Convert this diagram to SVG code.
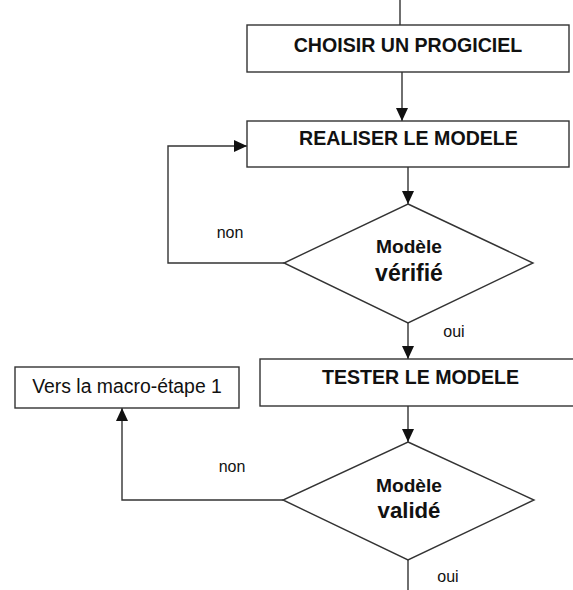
<svg xmlns="http://www.w3.org/2000/svg" width="573" height="590" viewBox="0 0 573 590">
<style>
.box{fill:#fff;stroke:#333;stroke-width:1.4}
.line{fill:none;stroke:#333;stroke-width:1.4}
.t{font-family:"Liberation Sans",Arial,sans-serif;fill:#111;text-anchor:middle}
.b{font-weight:bold}
</style>
<defs>
<marker id="arr" markerUnits="userSpaceOnUse" markerWidth="13" markerHeight="12" refX="13" refY="6" orient="auto">
<path d="M0,0 L13,6 L0,12 z" fill="#111"/>
</marker>
</defs>
<rect width="573" height="590" fill="#fff"/>
<g id="connectors">
<line class="line" x1="400" y1="0" x2="400" y2="25"/>
<line class="line" x1="402" y1="72" x2="402" y2="121" marker-end="url(#arr)"/>
<line class="line" x1="408" y1="167" x2="408" y2="204" marker-end="url(#arr)"/>
<polyline class="line" points="284,263 168,263 168,146 247,146" marker-end="url(#arr)"/>
<line class="line" x1="408" y1="323" x2="408" y2="359" marker-end="url(#arr)"/>
<line class="line" x1="408" y1="406" x2="408" y2="442" marker-end="url(#arr)"/>
<polyline class="line" points="283,500 122,500 122,408" marker-end="url(#arr)"/>
<line class="line" x1="408" y1="560" x2="408" y2="590"/>
<text class="t" x="230" y="238" font-size="16">non</text>
<text class="t" x="454" y="337" font-size="16">oui</text>
<text class="t" x="232" y="472" font-size="16">non</text>
<text class="t" x="448" y="582" font-size="16">oui</text>
</g>
<g id="choisir">
<rect class="box" x="247" y="25" width="322" height="47"/>
<text class="t b" x="408" y="52" font-size="19.6">CHOISIR UN PROGICIEL</text>
</g>
<g id="realiser">
<rect class="box" x="247" y="121" width="322" height="46"/>
<text class="t b" x="408.5" y="145" font-size="19.6">REALISER LE MODELE</text>
</g>
<g id="verifie">
<polygon class="box" points="408,204 533,263 408,323 284,263"/>
<text class="t b" x="409" y="253" font-size="19.2">Modèle</text>
<text class="t b" x="409" y="281" font-size="23">vérifié</text>
</g>
<g id="tester">
<rect class="box" x="260" y="359" width="321" height="47"/>
<text class="t b" x="420.5" y="384" font-size="19.6">TESTER LE MODELE</text>
</g>
<g id="macro">
<rect class="box" x="15" y="367" width="224" height="41"/>
<text class="t" x="127" y="393" font-size="19.4">Vers la macro-étape 1</text>
</g>
<g id="valide">
<polygon class="box" points="408,442 534,500 408,560 283,500"/>
<text class="t b" x="409" y="492" font-size="19.2">Modèle</text>
<text class="t b" x="409" y="518" font-size="22.2">validé</text>
</g>
</svg>
